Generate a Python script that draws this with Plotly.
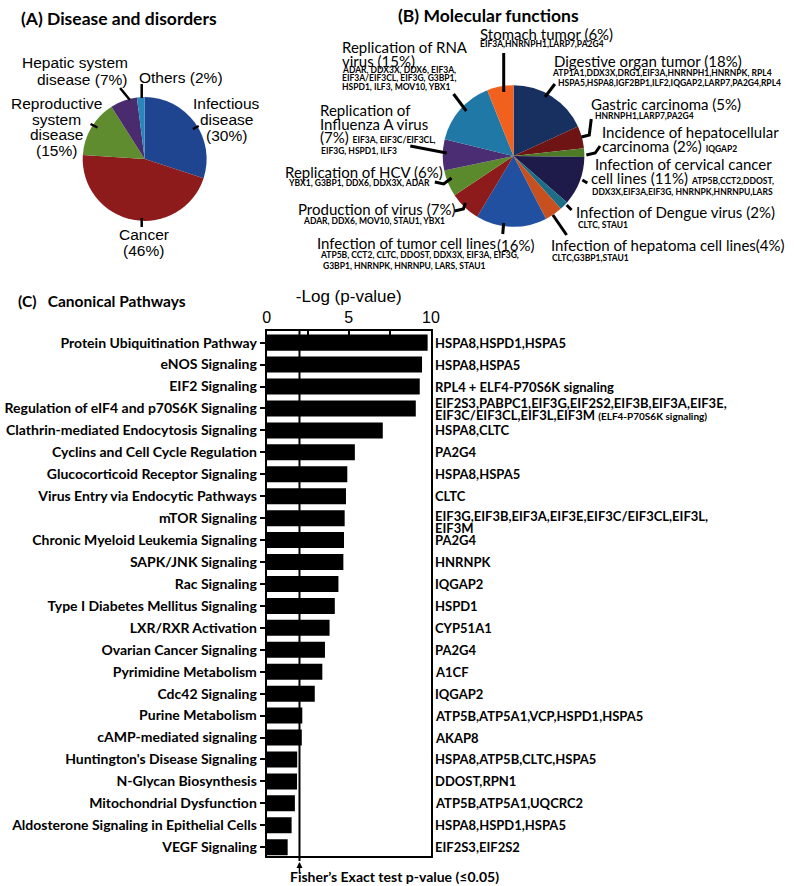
import plotly.graph_objects as go

W, H = 796, 886

# ---------------- data ----------------
# (A) Disease and disorders
disease_names = ["Infectious disease", "Cancer", "Reproductive system disease",
                 "Hepatic system disease", "Others"]
disease_pct = [30, 46, 15, 7, 2]
disease_colors = ["#1f4591", "#8e1b1b", "#5f8c2f", "#4a2c6e", "#2a86ba"]

# (B) Molecular functions (clockwise from 12 o'clock)
function_names = ["Digestive organ tumor", "Gastric carcinoma",
                  "Incidence of hepatocellular carcinoma",
                  "Infection of cervical cancer cell lines", "Infection of Dengue virus",
                  "Infection of hepatoma cell lines", "Infection of tumor cell lines",
                  "Production of virus", "Replication of HCV",
                  "Replication of Influenza A virus", "Replication of RNA virus",
                  "Stomach tumor"]
function_pct = [18, 5, 2, 11, 2, 4, 16, 7, 6, 7, 15, 6]
function_colors = ["#17305f", "#6e1414", "#4f7a28", "#1e1b4b", "#1b6e86", "#c8501e",
                   "#2150a0", "#8e1b1b", "#5b8a2d", "#4b2d73", "#2078a6", "#f2601e"]

# (C) Canonical pathways
pathways = ["Protein Ubiquitination Pathway", "eNOS Signaling", "EIF2 Signaling",
            "Regulation of eIF4 and p70S6K Signaling",
            "Clathrin-mediated Endocytosis Signaling", "Cyclins and Cell Cycle Regulation",
            "Glucocorticoid Receptor Signaling", "Virus Entry via Endocytic Pathways",
            "mTOR Signaling", "Chronic Myeloid Leukemia Signaling", "SAPK/JNK Signaling",
            "Rac Signaling", "Type I Diabetes Mellitus Signaling", "LXR/RXR Activation",
            "Ovarian Cancer Signaling", "Pyrimidine Metabolism", "Cdc42 Signaling",
            "Purine Metabolism", "cAMP-mediated signaling",
            "Huntington's Disease Signaling", "N-Glycan Biosynthesis",
            "Mitochondrial Dysfunction", "Aldosterone Signaling in Epithelial Cells",
            "VEGF Signaling"]
neg_log_p = [9.8, 9.46, 9.32, 9.08, 7.07, 5.37, 4.91, 4.83, 4.75, 4.71, 4.67, 4.37,
             4.15, 3.83, 3.55, 3.39, 2.93, 2.17, 2.14, 1.86, 1.85, 1.72, 1.52, 1.28]
pathway_genes = [
    "HSPA8,HSPD1,HSPA5",
    "HSPA8,HSPA5",
    "RPL4 + ELF4-P70S6K signaling",
    "EIF2S3,PABPC1,EIF3G,EIF2S2,EIF3B,EIF3A,EIF3E,\nEIF3C/EIF3CL,EIF3L,EIF3M "
    "<span style='font-size:10px'>(ELF4-P70S6K signaling)</span>",
    "HSPA8,CLTC",
    "PA2G4",
    "HSPA8,HSPA5",
    "CLTC",
    "EIF3G,EIF3B,EIF3A,EIF3E,EIF3C/EIF3CL,EIF3L,\nEIF3M",
    "PA2G4",
    "HNRNPK",
    "IQGAP2",
    "HSPD1",
    "CYP51A1",
    "PA2G4",
    "A1CF",
    "IQGAP2",
    "ATP5B,ATP5A1,VCP,HSPD1,HSPA5",
    "AKAP8",
    "HSPA8,ATP5B,CLTC,HSPA5",
    "DDOST,RPN1",
    "ATP5B,ATP5A1,UQCRC2",
    "HSPA8,HSPD1,HSPA5",
    "EIF2S3,EIF2S2",
]
fisher_cutoff = 2.0

# ---------------- helpers ----------------
LATO = "Lato, Calibri, sans-serif"
ARIAL = "Liberation Sans, Arial, sans-serif"


def px(x):
    return x / W


def py(y):
    return 1 - y / H


def g(s):
    # small bold gene names inline
    return f"<span style='font-size:8.5px'><b>{s}</b></span>"


fig = go.Figure()

fig.add_trace(go.Pie(
    labels=disease_names, values=disease_pct, sort=False, direction="clockwise",
    rotation=0, marker=dict(colors=disease_colors), textinfo="none",
    textposition="none", hoverinfo="label+percent", showlegend=False,
    domain=dict(x=[px(80), px(206)], y=[py(222), py(96)]),
))

fig.add_trace(go.Pie(
    labels=function_names, values=function_pct, sort=False, direction="clockwise",
    rotation=0, marker=dict(colors=function_colors), textinfo="none",
    textposition="none", hoverinfo="label+percent", showlegend=False,
    domain=dict(x=[px(446), px(590)], y=[py(228), py(84)]),
))

fig.add_trace(go.Bar(
    x=neg_log_p, y=pathways, orientation="h", width=0.73,
    marker=dict(color="black", line=dict(width=0)), showlegend=False,
))

annotations = []
shapes = []


def label(x, y, text, size, family=LATO, weight="normal", anchor="left"):
    annotations.append(dict(
        x=px(x), y=py(y), xref="paper", yref="paper", text=text, showarrow=False,
        xanchor=anchor, yanchor="middle", borderpad=0,
        font=dict(size=size, family=family, color="black", weight=weight)))


def leader(points, width):
    path = "M " + " L ".join(f"{px(a)},{py(b)}" for a, b in points)
    shapes.append(dict(type="path", xref="paper", yref="paper", path=path,
                       line=dict(color="black", width=width)))


# titles
label(16, 18, "(A) Disease and disorders", 17.5, weight="bold")
label(400, 16, "(B) Molecular functions", 17.5, weight="bold")
label(13, 301, "(C)&nbsp;&nbsp;&nbsp;Canonical Pathways", 15.5, weight="bold")

# (A) labels
for x, y, t in [(226, 103, "Infectious"), (226, 119, "disease"), (226, 135, "(30%)"),
                (142, 234, "Cancer"), (142, 250, "(46%)"),
                (53, 103, "Reproductive"), (53, 119, "system"), (53, 134.5, "disease"),
                (53, 150, "(15%)")]:
    label(x, y, t, 15.5, family=ARIAL, anchor="center")
label(127, 63, "Hepatic system", 15.5, family=ARIAL, anchor="right")
label(126, 79, "disease (7%)", 15.5, family=ARIAL, anchor="right")
label(136, 77, "Others (2%)", 15.5, family=ARIAL)

for pts in [[(192, 129), (198, 126)], [(140, 218), (140, 227)],
            [(88, 124), (95, 127.5)], [(118, 88), (128, 100)], [(140, 84), (140, 98)]]:
    leader(pts, 2.5)

# (B) labels
HEAD = 15
for x, y, t in [
    (483, 34, "Stomach tumor (6%)"),
    (483, 44, g("EIF3A,HNRNPH1,LARP7,PA2G4")),
    (558, 61, "Digestive organ tumor (18%)"),
    (556, 73, g("ATP1A1,DDX3X,DRG1,EIF3A,HNRNPH1,HNRNPK, RPL4")),
    (562, 83, g("HSPA5,HSPA8,IGF2BP1,ILF2,IQGAP2,LARP7,PA2G4,RPL4")),
    (596, 104, "Gastric carcinoma (5%)"),
    (600, 116, g("HNRNPH1,LARP7,PA2G4")),
    (607, 132, "Incidence of hepatocellular"),
    (607, 146, "carcinoma (2%) " + g("IQGAP2")),
    (600, 164, "Infection of cervical cancer"),
    (596, 178, "cell lines (11%) " + g("ATP5B,CCT2,DDOST,")),
    (597, 192, g("DDX3X,EIF3A,EIF3G, HNRNPK,HNRNPU,LARS")),
    (580, 212, "Infection of Dengue virus (2%)"),
    (583, 225, g("CLTC, STAU1")),
    (555, 245, "Infection of hepatoma cell lines(4%)"),
    (556, 258, g("CLTC,G3BP1,STAU1")),
    (317, 243, "Infection of tumor cell lines"),
    (500, 245, "(16%)"),
    (320, 255, g("ATP5B, CCT2, CLTC, DDOST, DDX3X, EIF3A, EIF3G,")),
    (323, 266, g("G3BP1, HNRNPK, HNRNPU, LARS, STAU1")),
    (298, 209, "Production of virus (7%)"),
    (303, 221, g("ADAR, DDX6, MOV10, STAU1, YBX1")),
    (285, 172, "Replication of HCV (6%)"),
    (288, 183, g("YBX1, G3BP1, DDX6, DDX3X, ADAR")),
    (320, 110, "Replication of"),
    (320, 124, "Influenza A virus"),
    (320, 137, "(7%) " + g("EIF3A, EIF3C/EIF3CL,")),
    (321, 151, g("EIF3G, HSPD1, ILF3")),
    (343, 47, "Replication of RNA"),
    (343, 61, "virus (15%)"),
    (343, 70, g("ADAR, DDX3X, DDX6, EIF3A,")),
    (343, 78.5, g("EIF3A/EIF3CL, EIF3G, G3BP1,")),
    (343, 87, g("HSPD1, ILF3, MOV10, YBX1")),
]:
    label(x, y, t, HEAD)

for pts in [
    [(508, 53), (508, 92)],
    [(550, 97), (560, 84)],
    [(597, 119), (595, 135), (587, 137)],
    [(592, 155), (601, 153), (606, 146)],
    [(588, 180), (593, 183)],
    [(572, 205), (577, 210)],
    [(558, 215), (572, 235)],
    [(508, 223), (507, 234)],
    [(458, 211), (467, 209), (469, 203)],
    [(438, 182), (447, 184), (455, 178)],
    [(413, 146), (450, 153)],
    [(457, 94), (470, 111)],
]:
    leader(pts, 3)

# (C) gene labels next to bars (two-line labels get their own pixel offsets)
two_line_shift = {3: [5, -7], 8: [2, -10]}
for i, (name, genes) in enumerate(zip(pathways, pathway_genes)):
    lines = genes.split("\n")
    shifts = two_line_shift.get(i, [0])
    for line, s in zip(lines, shifts):
        annotations.append(dict(
            x=10, y=name, xref="x", yref="y", text=line, showarrow=False,
            xanchor="left", yanchor="middle", xshift=3, yshift=s, borderpad=0,
            font=dict(size=13, family=LATO, color="black", weight="bold")))

# significance threshold line and arrow
shapes.append(dict(type="line", xref="x", yref="paper", x0=fisher_cutoff,
                   x1=fisher_cutoff, y0=py(861), y1=py(331),
                   line=dict(color="black", width=2)))
annotations.append(dict(x=fisher_cutoff, y=py(862), xref="x", yref="paper", text="",
                        showarrow=True, ax=0, ay=12, arrowhead=2, arrowsize=0.8,
                        arrowwidth=1.5, arrowcolor="black"))
label(397, 876, "Fisher’s Exact test p-value (≤0.05)", 14, weight="bold", anchor="center")

fig.update_layout(
    width=W, height=H, margin=dict(l=0, r=0, t=0, b=0),
    paper_bgcolor="white", plot_bgcolor="white", showlegend=False,
    xaxis=dict(
        domain=[px(267), px(434)], range=[0, 10], side="top",
        tickvals=[0, 2.5, 5, 7.5, 10], ticktext=["0", "", "5", "", "10"],
        ticks="inside", ticklen=4, tickwidth=1.5, tickcolor="black",
        showline=True, linecolor="black", linewidth=1.5, mirror=True,
        showgrid=False, zeroline=False,
        tickfont=dict(family=ARIAL, size=16, color="black"),
        title=dict(text="-Log (p-value)", standoff=2,
                   font=dict(family=ARIAL, size=17, color="black")),
    ),
    yaxis=dict(
        domain=[py(856), py(331)], type="category", range=[23.4, -0.53],
        ticks="outside", ticklen=5, tickwidth=1.5, tickcolor="black",
        showline=True, linecolor="black", linewidth=2, mirror=True,
        showgrid=False, zeroline=False,
        tickfont=dict(family=LATO, size=14, color="black", weight="bold"),
    ),
    annotations=annotations,
    shapes=shapes,
)

# drop the default page margin so the figure sits at the window's top-left corner
fig.write_html("out.html", config={"displayModeBar": False},
               post_script="document.body.style.margin='0';")
